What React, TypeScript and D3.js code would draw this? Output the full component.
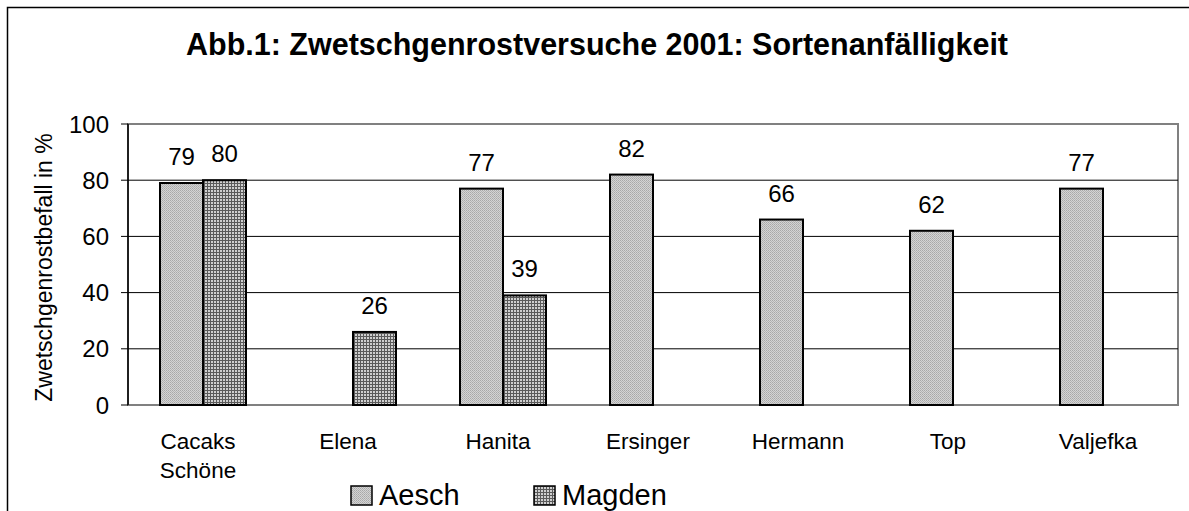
import * as d3 from "d3";

const categories = ["Cacaks Schöne", "Elena", "Hanita", "Ersinger", "Hermann", "Top", "Valjefka"];
const seriesNames = ["Aesch", "Magden"];
const aeschValues: (number | null)[] = [79, null, 77, 82, 66, 62, 77];
const magdenValues: (number | null)[] = [80, 26, 39, null, null, null, null];
const yTicks = [0, 20, 40, 60, 80, 100];

const W = 1189;
const H = 511;
const font = "'Liberation Sans', Arial, sans-serif";

export default function App() {
  const plot = { left: 128, right: 1178, top: 124, bottom: 405 };
  const x = d3.scaleBand<string>().domain(categories).range([plot.left, plot.right]).padding(0);
  const y = d3.scaleLinear().domain([0, 100]).range([plot.bottom, plot.top]);
  const barW = 43;
  const inner = d3.scaleBand<string>().domain(seriesNames).range([-barW, barW]).padding(0);
  const series = [
    { name: "Aesch", values: aeschValues, fill: "url(#pAesch)" },
    { name: "Magden", values: magdenValues, fill: "url(#pMagden)" },
  ];

  return (
    <svg width={W} height={H} style={{ position: "absolute", left: 0, top: 0 }} fontFamily={font}>
      <defs>
        <pattern id="pAesch" width="2" height="2" patternUnits="userSpaceOnUse">
          <rect width="2" height="2" fill="#d4d4d4" />
          <rect width="1" height="1" fill="#a8a8a8" />
          <rect x="1" y="1" width="1" height="1" fill="#b4b4b4" />
        </pattern>
        <pattern id="pMagden" width="3" height="3" patternUnits="userSpaceOnUse">
          <rect width="3" height="3" fill="#cfcfcf" />
          <rect width="3" height="1" fill="#5a5a5a" />
          <rect width="1" height="3" fill="#5a5a5a" />
        </pattern>
      </defs>
      <rect x={0} y={0} width={W} height={H} fill="#fff" />
      <rect x={7.5} y={7.5} width={W + 20} height={H + 20} fill="none" stroke="#000" strokeWidth={1.5} />

      <text x={597} y={55} textAnchor="middle" fontSize={30.5} fontWeight="bold">
        Abb.1: Zwetschgenrostversuche 2001: Sortenanfälligkeit
      </text>

      {/* plot frame */}
      <rect x={plot.left} y={plot.top} width={plot.right - plot.left} height={plot.bottom - plot.top}
        fill="none" stroke="#808080" strokeWidth={2} />

      {/* grid lines */}
      {yTicks.filter((t) => t > 0 && t < 100).map((t) => (
        <line key={t} x1={plot.left} x2={plot.right} y1={y(t)} y2={y(t)} stroke="#000" strokeWidth={1} />
      ))}

      {/* y axis */}
      <line x1={plot.left} x2={plot.left} y1={plot.top} y2={plot.bottom} stroke="#000" strokeWidth={1.5} />
      {yTicks.map((t) => (
        <g key={t}>
          <line x1={plot.left - 7} x2={plot.left} y1={y(t)} y2={y(t)} stroke="#000" strokeWidth={1} />
          <text x={plot.left - 19} y={y(t) + 8.5} textAnchor="end" fontSize={24}>{t}</text>
        </g>
      ))}
      <text transform={`translate(52,${(plot.top + plot.bottom) / 2 + 3}) rotate(-90)`} textAnchor="middle" fontSize={23}>
        Zwetschgenrostbefall in %
      </text>

      {/* bars */}
      {series.map((s) =>
        s.values.map((v, i) => {
          if (v == null) return null;
          const cx = x(categories[i])! + x.bandwidth() / 2;
          const bx = cx + inner(s.name)!;
          return (
            <g key={s.name + i}>
              <rect x={bx} y={y(v)} width={inner.bandwidth()} height={plot.bottom - y(v)}
                fill={s.fill} stroke="#000" strokeWidth={2} />
              <text x={bx + inner.bandwidth() / 2} y={y(v) - 18} textAnchor="middle" fontSize={24}>{v}</text>
            </g>
          );
        })
      )}

      {/* category labels */}
      {categories.map((c) => {
        const cx = x(c)! + x.bandwidth() / 2;
        const parts = c.split(" ");
        return (
          <text key={c} x={cx - 5} y={449} textAnchor="middle" fontSize={22.5}>
            {parts.map((p, k) => (
              <tspan key={k} x={cx - 5} dy={k === 0 ? 0 : 29}>{p}</tspan>
            ))}
          </text>
        );
      })}

      {/* legend */}
      {series.map((s, i) => {
        const lx = i === 0 ? 351 : 534;
        return (
          <g key={s.name}>
            <rect x={lx} y={486} width={21} height={19} fill={s.fill} stroke="#000" strokeWidth={1.5} />
            <text x={lx + 28} y={505} fontSize={29}>{s.name}</text>
          </g>
        );
      })}
    </svg>
  );
}
